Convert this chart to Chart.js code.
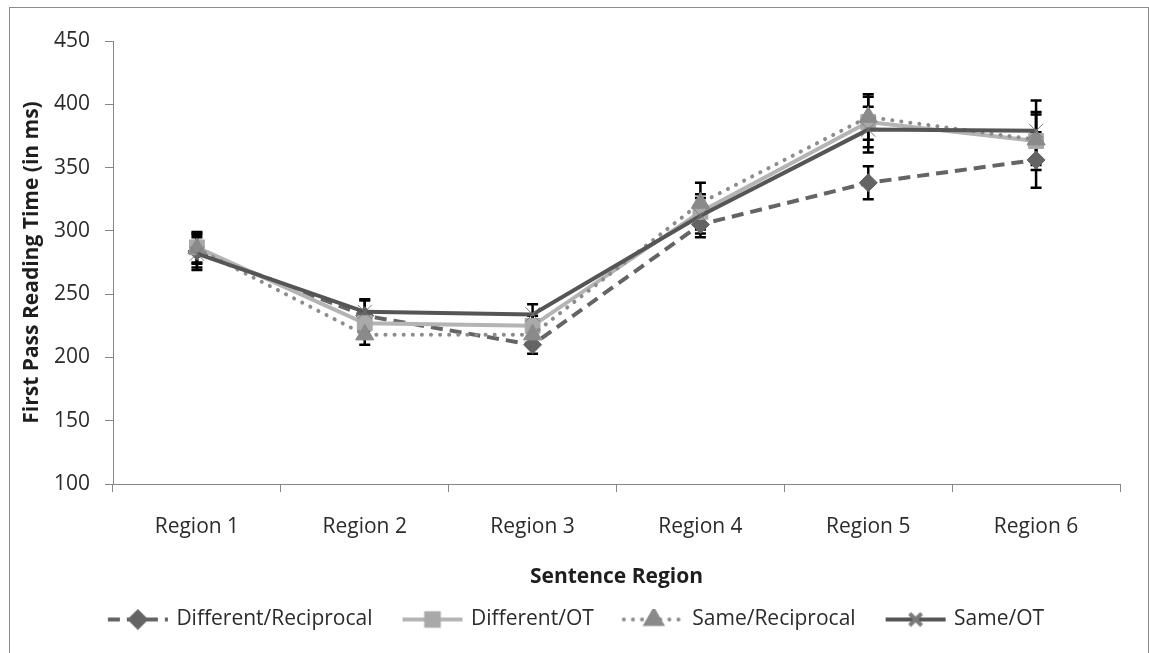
<!DOCTYPE html>
<html>
<head>
<meta charset="utf-8">
<script src="https://cdn.jsdelivr.net/npm/chart.js@4.4.0/dist/chart.umd.min.js"></script>
<style>
  body { margin: 0; background: #fff; }
  #frame { position: absolute; left: 9px; top: 7px; width: 1138px; height: 700px; border: 1px solid #8c8c8c; }
  #chart { position: absolute; left: 0; top: 0; }
</style>
</head>
<body>
<div id="frame"></div>
<canvas id="chart" width="1149" height="653"></canvas>
<script>
// ------------------------------------------------------------
// DATA
// ------------------------------------------------------------
const regions = ["Region 1", "Region 2", "Region 3", "Region 4", "Region 5", "Region 6"];

const diffRecip = [284, 233, 210, 305, 338, 356];
const diffOT    = [287, 227, 225, 315, 386, 371];
const sameRecip = [286, 218, 218, 322, 390, 372];
const sameOT    = [282, 236, 234, 312, 380, 379];

// error bar half-widths (+/-)
const diffRecipErr = [13, 12, 7, 10, 13, 22];
const diffOTErr    = [12, 9, 8, 14, 20, 23];
const sameRecipErr = [12, 8, 8, 16, 18, 20];
const sameOTErr    = [13, 10, 8, 14, 18, 24];

const yTicks = [100, 150, 200, 250, 300, 350, 400, 450];

const FONT = "'Open Sans', sans-serif";
const FSIZE = 21;

// Little canvas used as legend symbol: line + marker in the middle
function legendSymbol(color, dash, cap, marker, markerColor, radius) {
    const c = document.createElement("canvas");
    c.width = 66;
    c.height = 22;
    const g = c.getContext("2d");
    g.strokeStyle = color;
    g.lineWidth = 4;
    g.lineCap = cap;
    g.setLineDash(dash);
    g.beginPath();
    g.moveTo(3, 11);
    g.lineTo(63, 11);
    g.stroke();
    g.setLineDash([]);
    g.fillStyle = markerColor;
    g.strokeStyle = markerColor;
    Chart.helpers.drawPoint(g, { pointStyle: marker, radius: radius, borderWidth: 1, rotation: 0 }, 33, 11);
    return c;
}

// Excel style error bars (black, capped)
const errorBars = {
    id: "errorBars",
    beforeDatasetsDraw(chart) {
        const ctx = chart.ctx;
        const y = chart.scales.y;
        ctx.save();
        ctx.strokeStyle = "#000";
        ctx.lineWidth = 2.5;
        chart.data.datasets.forEach((ds, i) => {
            const meta = chart.getDatasetMeta(i);
            meta.data.forEach((pt, j) => {
                const top = y.getPixelForValue(ds.data[j] + ds.errors[j]);
                const bot = y.getPixelForValue(ds.data[j] - ds.errors[j]);
                ctx.beginPath();
                ctx.moveTo(pt.x, top);
                ctx.lineTo(pt.x, bot);
                ctx.moveTo(pt.x - 5.5, top);
                ctx.lineTo(pt.x + 5.5, top);
                ctx.moveTo(pt.x - 5.5, bot);
                ctx.lineTo(pt.x + 5.5, bot);
                ctx.stroke();
            });
        });
        ctx.restore();
    }
};

const series = [
    { label: "Different/Reciprocal", data: diffRecip, errors: diffRecipErr, color: "#646464", dash: [12, 7], cap: "butt",
      marker: "rectRot", markerColor: "#646464", radius: 9, order: 4 },
    { label: "Different/OT", data: diffOT, errors: diffOTErr, color: "#b4b4b4", dash: [], cap: "butt",
      marker: "rect", markerColor: "#a9a9a9", radius: 10.5, order: 3 },
    { label: "Same/Reciprocal", data: sameRecip, errors: sameRecipErr, color: "#8c8c8c", dash: [0.1, 9], cap: "round",
      marker: "triangle", markerColor: "#8a8a8a", radius: 10.5, order: 2 },
    { label: "Same/OT", data: sameOT, errors: sameOTErr, color: "#555555", dash: [], cap: "butt",
      marker: "crossRot", markerColor: "#7a7a7a", radius: 10, order: 1 }
];

const symbols = series.map(s => legendSymbol(s.color, s.dash, s.cap, s.marker, s.markerColor, s.radius * 0.85));

new Chart(document.getElementById("chart"), {
    type: "line",
    data: {
        labels: regions,
        datasets: series.map(s => ({
            label: s.label,
            data: s.data,
            errors: s.errors,
            order: s.order,
            borderColor: s.color,
            borderWidth: 4,
            borderDash: s.dash,
            borderCapStyle: s.cap,
            tension: 0,
            fill: false,
            pointStyle: s.marker,
            pointRadius: s.radius,
            pointBackgroundColor: s.markerColor,
            pointBorderColor: s.markerColor,
            pointBorderWidth: 1
        }))
    },
    options: {
        responsive: false,
        animation: false,
        devicePixelRatio: 1,
        layout: { padding: { left: 34, right: 29, top: 41, bottom: 13 } },
        scales: {
            x: {
                offset: true,
                grid: { display: true, offset: true, drawOnChartArea: false, tickLength: 8, color: "#868686", tickWidth: 1 },
                border: { color: "#868686", width: 1 },
                ticks: { color: "#2b2b2b", padding: 22, font: { family: FONT, size: FSIZE } },
                title: { display: true, text: "Sentence Region", color: "#1e1e1e", padding: { top: 0, bottom: -13 },
                         font: { family: FONT, size: FSIZE, weight: "bold" } },
                afterFit: s => { s.height = 93; }
            },
            y: {
                min: 100,
                max: 450,
                afterBuildTicks: s => { s.ticks = yTicks.map(v => ({ value: v })); },
                grid: { display: true, drawOnChartArea: false, tickLength: 8, color: "#868686" },
                border: { color: "#868686", width: 1 },
                ticks: { color: "#2b2b2b", padding: 15, font: { family: FONT, size: FSIZE } },
                title: { display: true, text: "First Pass Reading Time (in ms)", color: "#1e1e1e", padding: { top: -14.6, bottom: 0 },
                         font: { family: FONT, size: FSIZE, weight: "bold" } },
                afterFit: s => { s.width = 79; }
            }
        },
        plugins: {
            legend: {
                position: "bottom",
                labels: {
                    usePointStyle: true,
                    pointStyleWidth: 56,
                    padding: 32,
                    color: "#2b2b2b",
                    font: { family: FONT, size: FSIZE },
                    generateLabels: chart => chart.data.datasets.map((ds, i) => ({
                        text: ds.label,
                        pointStyle: symbols[i],
                        datasetIndex: i,
                        fillStyle: "transparent",
                        strokeStyle: "transparent",
                        lineWidth: 0,
                        fontColor: "#2b2b2b"
                    }))
                }
            },
            tooltip: { enabled: false }
        }
    },
    plugins: [errorBars]
});
</script>
</body>
</html>
